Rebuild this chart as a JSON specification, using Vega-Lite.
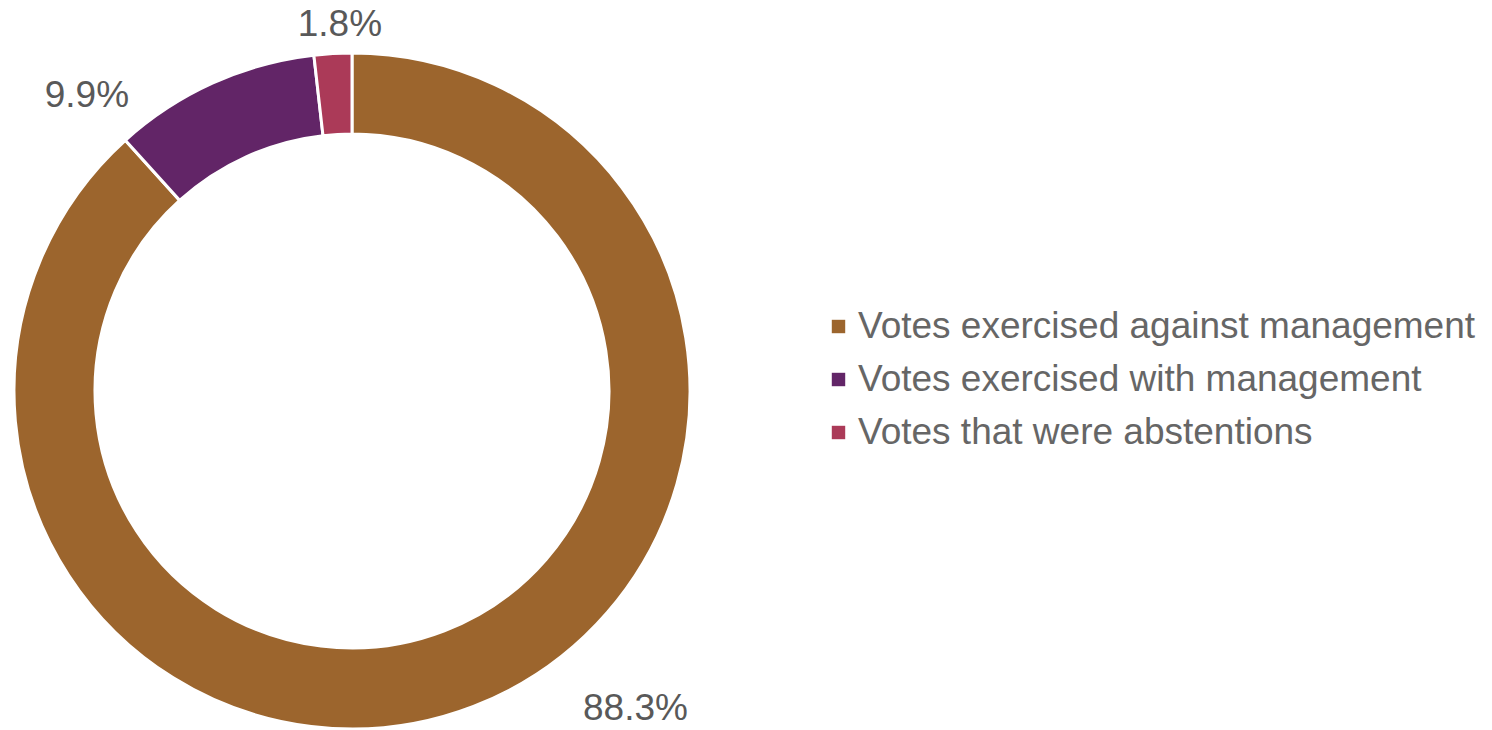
{
  "$schema": "https://vega.github.io/schema/vega-lite/v6.json",
  "autosize": {"type": "none"},
  "width": 676,
  "height": 676,
  "padding": {"left": 14, "top": 53, "right": 802, "bottom": 1},
  "background": "white",
  "config": {"view": {"stroke": null}, "font": "Liberation Sans"},
  "data": {
    "values": [
      {"category": "Votes exercised against management", "value": 88.3, "label": "88.3%", "order": 1},
      {"category": "Votes exercised with management", "value": 9.9, "label": "9.9%", "order": 2},
      {"category": "Votes that were abstentions", "value": 1.8, "label": "1.8%", "order": 3}
    ]
  },
  "encoding": {
    "theta": {"field": "value", "type": "quantitative", "stack": true},
    "order": {"field": "order", "type": "quantitative"}
  },
  "layer": [
    {
      "mark": {"type": "arc", "outerRadius": 338, "innerRadius": 257, "stroke": "white", "strokeWidth": 3},
      "encoding": {
        "color": {
          "field": "category",
          "type": "nominal",
          "sort": null,
          "scale": {
            "domain": ["Votes exercised against management", "Votes exercised with management", "Votes that were abstentions"],
            "range": ["#9C652D", "#622567", "#AB3A58"]
          },
          "legend": {
            "title": null,
            "orient": "none",
            "legendX": 806,
            "legendY": 255,
            "symbolType": "square",
            "symbolSize": 180,
            "symbolStrokeWidth": 0,
            "labelFontSize": 37,
            "labelColor": "#666666",
            "labelFont": "Liberation Sans",
            "labelOffset": 1,
            "rowPadding": 15,
            "labelLimit": 800
          }
        }
      }
    },
    {
      "mark": {"type": "text", "radius": 338, "dx": 162, "dy": 3, "fontSize": 37, "color": "#595959", "align": "center", "baseline": "middle"},
      "encoding": {
        "text": {"condition": {"test": "datum.order === 1", "field": "label"}, "value": ""}
      }
    },
    {
      "mark": {"type": "text", "radius": 338, "dx": -126, "dy": 13, "fontSize": 37, "color": "#595959", "align": "center", "baseline": "middle"},
      "encoding": {
        "text": {"condition": {"test": "datum.order === 2", "field": "label"}, "value": ""}
      }
    },
    {
      "mark": {"type": "text", "radius": 338, "dx": 7, "dy": -29, "fontSize": 37, "color": "#595959", "align": "center", "baseline": "middle"},
      "encoding": {
        "text": {"condition": {"test": "datum.order === 3", "field": "label"}, "value": ""}
      }
    }
  ]
}
